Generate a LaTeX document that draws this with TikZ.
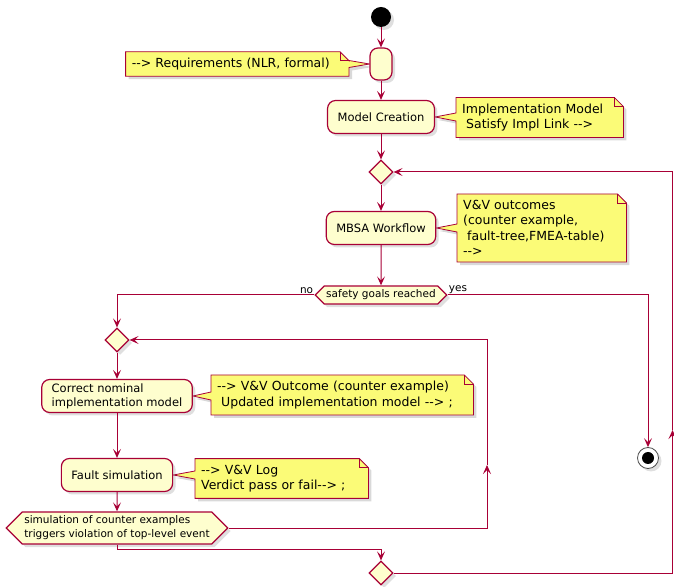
\documentclass[tikz,border=0pt]{standalone}
\usepackage{fontspec}
\usepackage{tikz}
\usetikzlibrary{shapes, shapes.geometric, shapes.symbols, arrows.meta, calc, shadows, backgrounds}
\newfontfamily\umlfont{DejaVu Sans}
\definecolor{umlred}{HTML}{A80036}
\definecolor{actfill}{HTML}{FEFECE}
\definecolor{notefill}{HTML}{FBFB77}
\tikzstyle{activity} = [rectangle, rounded corners=8pt, draw=umlred, line width=1.2pt,
    fill=actfill, inner xsep=10pt, minimum height=33pt, align=left,
    font=\umlfont\fontsize{11.5}{14}\selectfont,
    drop shadow={shadow xshift=3pt, shadow yshift=-3pt, opacity=0.25}]
\tikzstyle{merge} = [diamond, draw=umlred, line width=1.2pt, fill=actfill,
    minimum width=24pt, minimum height=24pt, inner sep=0pt,
    drop shadow={shadow xshift=3pt, shadow yshift=-3pt, opacity=0.25}]
\tikzstyle{decision} = [signal, signal to=west and east, signal pointer angle=90,
    draw=umlred, line width=1.2pt, fill=actfill, inner xsep=2pt, inner ysep=4pt,
    align=left, font=\umlfont\fontsize{10.5}{14}\selectfont,
    drop shadow={shadow xshift=3pt, shadow yshift=-3pt, opacity=0.25}]
\tikzstyle{notetext} = [inner xsep=6pt, inner ysep=6pt, align=left,
    font=\umlfont\fontsize{12.5}{15.5}\selectfont]
\tikzstyle{notebox} = [draw=umlred, line width=0.8pt, fill=notefill,
    drop shadow={shadow xshift=3pt, shadow yshift=-3pt, opacity=0.3}]
\tikzstyle{notefold} = [draw=umlred, line width=0.8pt]
\tikzstyle{edgelabel} = [inner sep=1pt, font=\umlfont\fontsize{10.5}{12}\selectfont]
\tikzstyle{startnode} = [circle, fill=black, minimum size=20pt, inner sep=0pt,
    drop shadow={shadow xshift=3pt, shadow yshift=-3pt, opacity=0.25}]
\tikzstyle{endnode} = [circle, draw=black!70, line width=0.8pt, fill=white,
    minimum size=21pt, inner sep=0pt,
    path picture={\fill[black] (path picture bounding box.center) circle (6pt);},
    drop shadow={shadow xshift=3pt, shadow yshift=-3pt, opacity=0.25}]
\tikzstyle{line} = [draw=umlred, line width=1pt, -{Stealth[length=9pt, width=8pt, inset=4pt]}]
% note with its callout on the left edge (towards #2)
\newcommand{\umlnote}[2]{%
  \begin{scope}[on background layer]
    \draw [notebox] (#1.north west) -- ($(#1.north east)+(-9pt,0)$)
      -- ($(#1.north east)+(0,-9pt)$) -- (#1.south east) -- (#1.south west)
      -- ($(#1.west |- #2)+(0,-4pt)$) -- (#2) -- ($(#1.west |- #2)+(0,4pt)$) -- cycle;
    \draw [notefold] ($(#1.north east)+(-9pt,0)$) -- ($(#1.north east)+(-9pt,-9pt)$)
      -- ($(#1.north east)+(0,-9pt)$);
  \end{scope}}
% note with its callout on the right edge
\newcommand{\umlnoteR}[2]{%
  \begin{scope}[on background layer]
    \draw [notebox] (#1.north west) -- ($(#1.north east)+(-9pt,0)$)
      -- ($(#1.north east)+(0,-9pt)$) -- ($(#1.east |- #2)+(0,3.5pt)$) -- (#2)
      -- ($(#1.east |- #2)+(0,-3.5pt)$) -- (#1.south east) -- (#1.south west) -- cycle;
    \draw [notefold] ($(#1.north east)+(-9pt,0)$) -- ($(#1.north east)+(-9pt,-9pt)$)
      -- ($(#1.north east)+(0,-9pt)$);
  \end{scope}}

\begin{document}
\begin{tikzpicture}[x=1pt, y=1pt, auto]
    \useasboundingbox (0,0) rectangle (674,586);
    % Nodes
    \node [startnode] (start) at (381,569) {};
    \node [activity, minimum width=22pt, minimum height=32pt, below of=start, node distance=47pt] (req) {};
    \node [activity, below of=req, node distance=53pt] (model) {Model Creation};
    \node [merge, below of=model, node distance=55pt] (loop) {};
    \node [activity, below of=loop, node distance=56pt] (mbsa) {MBSA Workflow};
    \node [decision, below of=mbsa, node distance=67pt] (goals) {safety goals reached};
    \node [merge] (fix) at (117,246) {};
    \node [activity, below of=fix, node distance=56pt] (correct) {Correct nominal\\implementation model};
    \node [activity, below of=correct, node distance=79pt] (faultsim) {Fault simulation};
    \node [decision, below of=faultsim, node distance=53pt] (violation) {simulation of counter examples\\triggers violation of top-level event};
    \node [merge] (join) at (381,13) {};
    \node [endnode] (stop) at (648,128) {};
    \coordinate (retry) at (487,121);
    \coordinate (back) at (672.5,156);
    % Notes
    \node [notetext, text width=211pt, anchor=east] (reqnote) at (349,522) {-{}-> Requirements (NLR, formal)};
    \node [notetext, text width=155pt, anchor=west] (modelnote) at (456,468.5) {Implementation Model\\\hspace*{0.32em}Satisfy Impl Link -{}->};
    \node [notetext, text width=157pt, anchor=west] (mbsanote) at (457,358) {V\&V outcomes\\(counter example,\\\hspace*{0.32em}fault-tree,FMEA-table)\\-{}->};
    \node [notetext, text width=250pt, anchor=west] (correctnote) at (211,191) {-{}-> V\&V Outcome (counter example)\\\hspace*{0.32em}Updated implementation model -{}-> ;};
    \node [notetext, text width=161pt, anchor=west] (faultnote) at (195,107.5) {-{}-> V\&V Log\\Verdict pass or fail-{}-> ;};
    \umlnoteR{reqnote}{req.west}
    \umlnote{modelnote}{model.east}
    \umlnote{mbsanote}{mbsa.east}
    \umlnote{correctnote}{correct.east}
    \umlnote{faultnote}{faultsim.east}
    % Labels
    \node [edgelabel, anchor=south east] (nolabel) at (goals.west) {no};
    \node [edgelabel, anchor=south west] (yeslabel) at (goals.east) {yes};
    % Edges
    \path [line] (start) -- (req);
    \path [line] (req) -- (model);
    \path [line] (model) -- (loop);
    \path [line] (loop) -- (mbsa);
    \path [line] (mbsa) -- (goals);
    \path [line] (goals.west) -| (fix.north);
    \path [line] (goals.east) -| (stop.north);
    \path [line] (fix) -- (correct);
    \path [line] (correct) -- (faultsim);
    \path [line] (faultsim) -- (violation);
    \path [line] (violation.east) -| (retry);
    \path [line] (retry) |- (fix.east);
    \path [line] (violation.south) -- ++(0,-5) -| (join.north);
    \path [line] (join.east) -| (back);
    \path [line] (back) |- (loop.east);
\end{tikzpicture}
\end{document}
